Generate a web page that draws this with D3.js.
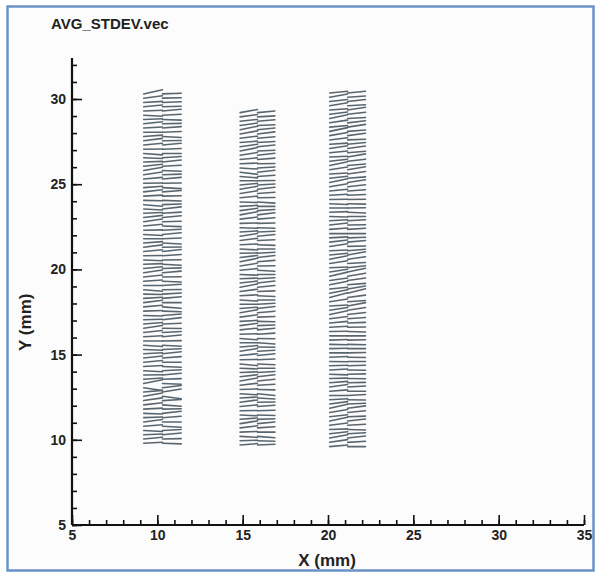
<!DOCTYPE html>
<html>
<head>
<meta charset="utf-8">
<script src="https://cdn.jsdelivr.net/npm/d3@7/dist/d3.min.js"></script>
<style>
  html, body { margin: 0; padding: 0; background: #ffffff; }
  svg { display: block; }
  text { font-family: "Liberation Sans", Arial, Helvetica, sans-serif; font-weight: bold; }
</style>
</head>
<body>
<svg id="chart" width="599" height="574"></svg>
<script>
// Title and axis labels
const plotTitle = "AVG_STDEV.vec";
const xLabel = "X (mm)";
const yLabel = "Y (mm)";
const xTicks = [5, 10, 15, 20, 25, 30, 35];
const yTicks = [5, 10, 15, 20, 25, 30];

// Measurement columns: x origins of the two vectors in each row (mm),
// horizontal component (mm), and the row range (mm, bottom to top, 0.25 step)
const col1X = [9.2, 10.3];
const col2X = [14.85, 15.87];
const col3X = [20.1, 21.15];
const colU = [1.1, 1.02, 1.05];
const col1Rows = [9.8, 30.3];
const col2Rows = [9.7, 29.2];
const col3Rows = [9.6, 30.35];
const rowStep = 0.25;

// Vertical vector components (mm), listed bottom row first
const vL1 = [0.06,0.10,0.04,-0.06,0.08,0.14,0.04,-0.04,0.06,0.12,
  0.16,0.20,0.10,-0.16,0.22,0.08,0.02,-0.06,0.06,0.10,
  0.12,0.06,-0.04,-0.08,0.00,0.06,0.12,0.16,0.08,0.02,
  -0.04,0.04,0.10,0.14,0.06,-0.02,-0.08,0.00,0.08,0.12,
  0.16,0.10,0.04,-0.04,0.02,0.10,0.14,0.08,0.00,-0.06,
  0.02,0.10,0.16,0.12,0.04,-0.06,-0.10,-0.02,0.06,0.12,
  0.08,0.02,0.10,0.16,0.20,0.12,0.04,-0.04,-0.08,0.02,
  0.10,0.14,0.08,0.00,0.06,0.12,0.04,-0.06,0.04,0.10,
  0.06,0.14,0.24];
const vR1 = [-0.04,0.02,0.10,0.06,-0.06,0.00,0.08,0.12,0.02,-0.08,
  0.06,-0.14,0.18,0.14,-0.04,0.04,0.10,0.06,-0.04,0.00,
  0.08,0.12,0.04,-0.06,0.02,0.10,0.06,-0.02,0.04,0.12,
  0.08,-0.04,-0.08,0.00,0.10,0.06,0.02,0.08,-0.04,0.02,
  0.10,0.04,-0.06,0.02,0.08,0.12,0.02,-0.06,0.04,0.10,
  0.06,-0.04,0.02,0.10,0.06,0.12,0.04,-0.04,0.02,0.08,
  -0.06,0.02,0.10,0.04,-0.04,0.06,0.12,0.08,0.00,0.04,
  0.10,0.02,-0.06,0.04,0.08,0.02,-0.04,0.06,0.10,0.02,
  0.04,0.02,0.04];
const vL2 = [0.08,0.02,-0.06,0.04,0.12,0.16,0.08,-0.04,0.02,0.10,
  0.14,0.06,-0.06,0.04,0.12,0.18,0.12,0.04,-0.04,-0.10,
  0.02,0.10,0.16,0.08,0.00,-0.08,0.02,0.10,0.14,0.06,
  0.14,0.18,0.08,0.00,-0.06,0.06,0.14,0.20,0.12,0.04,
  -0.04,0.10,0.16,0.20,0.12,0.02,-0.06,0.04,0.12,0.16,
  0.06,-0.04,0.02,0.12,0.18,0.14,0.06,-0.02,0.10,0.16,
  0.18,0.10,0.00,-0.08,-0.12,-0.06,0.04,0.10,0.16,0.20,
  0.14,0.08,0.12,0.18,0.20,0.14,0.10,0.14,0.18];
const vR2 = [0.04,-0.04,-0.08,0.00,0.06,0.10,0.04,-0.02,0.04,0.08,
  0.02,-0.06,-0.10,-0.02,0.06,0.10,0.12,0.06,0.00,-0.04,
  0.04,0.10,0.06,-0.02,-0.08,-0.02,0.06,0.10,0.04,-0.02,
  0.04,0.10,0.12,0.06,0.00,-0.04,0.04,0.10,0.12,0.06,
  0.00,-0.06,0.02,0.08,0.12,0.06,0.00,-0.04,0.04,0.10,
  0.04,-0.04,0.02,0.08,0.12,0.06,0.00,-0.06,0.02,0.08,
  0.12,0.06,0.02,0.08,0.12,0.06,0.02,0.08,0.12,0.04,
  0.10,0.06,0.08,0.12,0.10,0.04,0.08,0.06,0.10];
const vL3 = [0.10,0.16,0.20,0.12,0.04,0.14,0.22,0.12,0.18,0.24,
  0.14,0.06,0.00,0.08,0.14,0.08,0.02,-0.04,0.06,0.02,
  -0.02,0.04,0.00,0.02,-0.02,0.04,0.00,0.02,0.06,0.10,
  0.14,0.22,0.16,0.06,0.16,0.28,0.20,0.10,0.20,0.14,
  0.24,0.16,0.04,0.16,0.20,0.10,0.04,0.16,0.12,0.06,
  0.00,0.08,0.12,0.06,-0.02,0.04,0.00,-0.04,0.02,0.06,
  0.10,0.18,0.22,0.12,0.06,0.16,0.22,0.12,0.04,0.10,
  0.16,0.06,0.12,0.18,0.22,0.10,0.16,0.22,0.14,0.08,
  0.18,0.12,0.20,0.10];
const vR3 = [0.00,0.06,0.12,0.06,-0.02,0.06,0.12,0.04,0.10,0.14,
  0.04,-0.02,0.06,0.00,0.06,0.02,-0.02,0.02,-0.02,0.02,
  0.00,-0.02,0.02,0.00,-0.02,0.02,0.00,-0.02,0.02,0.04,
  0.08,0.12,0.16,0.20,0.08,0.14,0.26,0.18,0.08,0.14,
  0.18,0.22,0.12,0.06,0.14,0.18,0.08,0.02,0.10,0.04,
  0.00,0.06,0.02,0.06,0.00,-0.04,0.02,-0.02,0.02,0.04,
  0.08,0.12,0.16,0.08,0.14,0.18,0.08,0.12,0.18,0.08,
  0.14,0.10,0.04,0.14,0.08,0.16,0.12,0.06,0.12,0.16,
  0.06,0.12,0.08,0.10];

// Assemble vector records from the arrays above
const columns = [
  { xs: col1X, u: colU[0], rows: col1Rows, vl: vL1, vr: vR1 },
  { xs: col2X, u: colU[1], rows: col2Rows, vl: vL2, vr: vR2 },
  { xs: col3X, u: colU[2], rows: col3Rows, vl: vL3, vr: vR3 }
];
const vectors = [];
columns.forEach(c => {
  c.vl.forEach((v, i) => {
    const y = c.rows[0] + i * rowStep;
    vectors.push({ x: c.xs[0], y: y, u: c.u, v: v });
    vectors.push({ x: c.xs[1], y: y, u: c.u, v: c.vr[i] });
  });
});

const svg = d3.select("#chart");

// Outer frame
svg.append("rect")
  .attr("x", 7.5).attr("y", 6.5).attr("width", 586).attr("height", 564)
  .attr("fill", "#fdfcfc").attr("stroke", "#6a92c8").attr("stroke-width", 2.5);

const x = d3.scaleLinear().domain([5, 35]).range([72, 584]);
const y = d3.scaleLinear().domain([5, 30]).range([525, 99]);

// Vectors
svg.append("g")
  .selectAll("line")
  .data(vectors)
  .join("line")
  .attr("x1", d => x(d.x))
  .attr("y1", d => y(d.y))
  .attr("x2", d => x(d.x + d.u))
  .attr("y2", d => y(d.y + d.v))
  .attr("stroke", "#59666f")
  .attr("stroke-width", 1.55)
  .attr("stroke-linecap", "round");

// Axes: ticks point into the plot
const xMinor = d3.range(5, 36, 1);
const yMinor = d3.range(5, 33, 1);

const xAxisG = svg.append("g").attr("transform", `translate(0,${y(5)})`);
xAxisG.call(d3.axisBottom(x).tickValues(xMinor).tickSize(-5).tickFormat(""));
xAxisG.call(g => g.append("g").call(
  d3.axisBottom(x).tickValues(xTicks).tickSize(-10).tickPadding(5).tickFormat(d3.format("d"))));

const yAxisG = svg.append("g").attr("transform", `translate(${x(5)},0)`);
yAxisG.call(d3.axisLeft(y).tickValues(yMinor).tickSize(-5).tickFormat(""));
yAxisG.call(g => g.append("g").call(
  d3.axisLeft(y).tickValues(yTicks).tickSize(-10).tickPadding(6).tickFormat(d3.format("d"))));

svg.selectAll(".domain").remove();
svg.selectAll(".tick line").attr("stroke", "#111").attr("stroke-width", 1.6);
svg.selectAll(".tick text").attr("fill", "#222").style("font-size", "14px");

// Axis lines
svg.append("line")
  .attr("x1", x(5)).attr("x2", x(35)).attr("y1", y(5)).attr("y2", y(5))
  .attr("stroke", "#111").attr("stroke-width", 2.2);
svg.append("line")
  .attr("x1", x(5)).attr("x2", x(5)).attr("y1", y(5)).attr("y2", y(32.4))
  .attr("stroke", "#111").attr("stroke-width", 2.2);

// Title and axis titles
svg.append("text").attr("x", 51).attr("y", 29)
  .attr("fill", "#222").style("font-size", "15px").text(plotTitle);
svg.append("text").attr("x", (x(5) + x(35)) / 2 - 1).attr("y", 566)
  .attr("text-anchor", "middle").attr("fill", "#222").style("font-size", "17px").text(xLabel);
svg.append("text")
  .attr("transform", `translate(31,${y(16.9)}) rotate(-90)`)
  .attr("text-anchor", "middle").attr("fill", "#222").style("font-size", "17px").text(yLabel);
</script>
</body>
</html>
